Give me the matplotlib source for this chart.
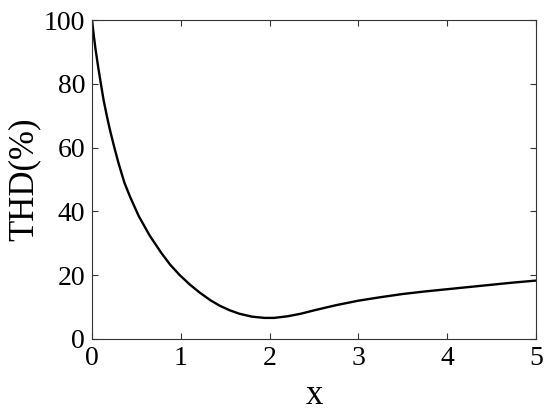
import matplotlib
matplotlib.use('Agg')
import matplotlib.pyplot as plt

# values
x = [0, 0.02, 0.04, 0.07, 0.1, 0.13, 0.165, 0.2, 0.25, 0.3, 0.365, 0.43,
     0.527, 0.65, 0.78, 0.88, 0.985, 1.1, 1.21, 1.33, 1.44, 1.55, 1.66,
     1.8, 1.94, 2.05, 2.2, 2.35, 2.52, 2.75, 3.0, 3.25, 3.5, 3.75, 4.0,
     4.25, 4.5, 4.75, 5.0]
thd = [100, 95.2, 90.8, 85.2, 80, 75, 70.2, 65.8, 60.2, 55, 49, 44.5,
       38.5, 32.4, 27, 23.3, 20.1, 17.1, 14.6, 12.2, 10.4, 9.0, 7.9,
       7.0, 6.6, 6.6, 7.1, 7.9, 9.1, 10.6, 12.0, 13.1, 14.1, 14.9, 15.6,
       16.3, 17.0, 17.7, 18.3]

xticks = [0, 1, 2, 3, 4, 5]
yticks = [0, 20, 40, 60, 80, 100]

plt.rcParams['font.family'] = ['Liberation Serif', 'DejaVu Serif']

fig = plt.figure(figsize=(5.5, 4.2), dpi=100)
ax = fig.add_axes([0.1673, 0.193, 0.8072, 0.759])

ax.plot(x, thd, color='black', linewidth=1.7)

ax.set_xlim(0, 5)
ax.set_ylim(0, 100)
ax.set_xticks(xticks)
ax.set_yticks(yticks)
ax.tick_params(direction='in', top=True, right=True, length=4, width=0.8,
               labelsize=20, pad=5, color='#333333')
for s in ax.spines.values():
    s.set_linewidth(0.8)
    s.set_color('#333333')

ax.set_xlabel('x', fontsize=25, labelpad=6)
ax.set_ylabel('THD(%)', fontsize=25, labelpad=2)

fig.savefig('out.png', dpi=100)
